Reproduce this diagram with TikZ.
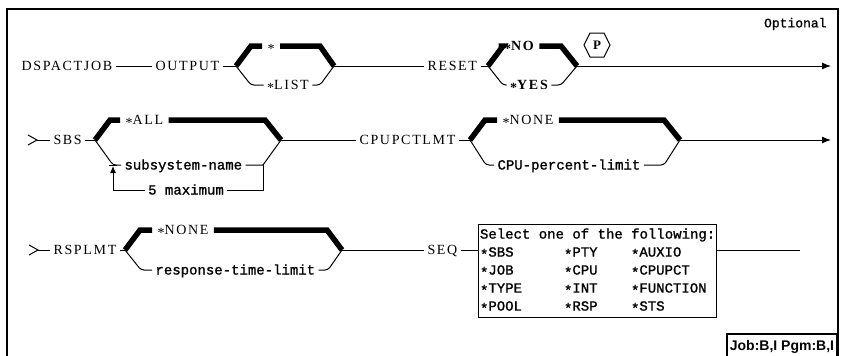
\documentclass[tikz,border=0pt]{standalone}
\usepackage{fontspec}
\setmainfont{Liberation Serif}
\newfontfamily\kwfont[LetterSpace=12]{Liberation Serif}
\newfontfamily\valfont[FakeBold=1.2]{Liberation Mono}
\newfontfamily\tagfont{Liberation Sans}
\usetikzlibrary{math}
\usetikzlibrary{calc}
\usetikzlibrary{arrows.meta}

\newcommand\lowstar{\raisebox{-2.5pt}{*}}

\tikzset{
  kw/.style={font=\kwfont\fontsize{14}{16}\selectfont, inner xsep=3pt, inner ysep=1pt, text height=9pt, text depth=0pt},
  val/.style={font=\valfont\fontsize{14}{16}\selectfont, inner xsep=3pt, inner ysep=1pt, text height=9pt, text depth=0pt},
  boldkw/.style={kw, font=\kwfont\bfseries\fontsize{14}{16}\selectfont},
  heavy/.style={line width=5.5pt},
  lower/.style={rounded corners=3pt},
  endarrow/.style={-{Latex[length=9pt,width=7pt]}},
}

\begin{document}
\begin{tikzpicture}[x=1pt, y=-1pt, line width=1pt]
\tikzmath{
\ra=66; \rb=140; \rc=250;
}
\useasboundingbox (0,0) rectangle (841,356);
\draw[line width=1.8pt] (7,362) -- (7,9) -- (838,9) -- (838,362);
\node[font=\valfont\fontsize{13}{15}\selectfont, anchor=east, inner sep=0pt] (opt) at (827,24) {Optional};

% first line
\node[kw, anchor=west] (cmd) at (18,\ra) {DSPACTJOB};
\node[kw, anchor=west] (output) at (152,\ra) {OUTPUT};
\coordinate (oa) at (236,\ra);
\coordinate (ob) at (334,\ra);
\node[kw, inner xsep=5pt] (outstar) at (271,\ra-20) {\lowstar};
\node[kw] (outlist) at (288,\ra+19) {\lowstar LIST};
\draw (cmd) -- (output);
\draw (output) -- (oa);
\draw[heavy] (oa) -- (251,\ra-20) -- (outstar.west);
\draw[heavy] (outstar.east) -- (320,\ra-20) -- (ob);
\draw[lower] (oa) -- (251,\ra+19) -- (outlist.west);
\draw[lower] (outlist.east) -- (320,\ra+19) -- (ob);

\node[kw, anchor=west] (reset) at (424,\ra) {RESET};
\coordinate (ra) at (488,\ra);
\coordinate (rb) at (577,\ra);
\node[boldkw, inner xsep=5pt] (resno) at (519,\ra-20) {\lowstar NO};
\node[boldkw] (resyes) at (529,\ra+19) {\lowstar YES};
\node[inner sep=0pt, minimum width=25pt, minimum height=23pt,
  font=\bfseries\fontsize{13}{15}\selectfont] (pmark) at (597,\ra-21) {P};
\draw (pmark.west) -- ($(pmark.north west)+(6,0)$) -- ($(pmark.north east)+(-6,0)$) -- (pmark.east)
  -- ($(pmark.south east)+(-6,0)$) -- ($(pmark.south west)+(6,0)$) -- cycle;
\coordinate (e1) at (831,\ra);
\draw (ob) -- (reset);
\draw (reset) -- (ra);
\draw[heavy] (ra) -- (503,\ra-20) -- (resno.west);
\draw[heavy] (resno.east) -- (561,\ra-20) -- (rb);
\draw[lower] (ra) -- (503,\ra+19) -- (resyes.west);
\draw[lower] (resyes.east) -- (561,\ra+19) -- (rb);
\draw[endarrow] (rb) -- (e1);

% second line
\coordinate (s2) at (37,\rb);
\draw (28,\rb-5) -- (s2) -- (28,\rb+5);
\node[kw, anchor=west] (sbs) at (50,\rb) {SBS};
\coordinate (sa) at (95,\rb);
\coordinate (sb) at (281,\rb);
\node[kw, anchor=west, inner xsep=5pt] (sbsall) at (120,\rb-20) {\lowstar ALL};
\node[val, anchor=west] (subname) at (121,\rb+25) {subsystem-name};
\node[val] (maxfive) at (186,\rb+50) {5 maximum};
\coordinate (jr) at (263,\rb+25);
\coordinate (jl) at (113,\rb+25);
\draw (s2) -- (sbs);
\draw (sbs) -- (sa);
\draw[heavy] (sa) -- (110,\rb-20) -- (sbsall.west);
\draw[heavy] (sbsall.east) -- (265,\rb-20) -- (sb);
\draw[lower] (sa) -- (jl) -- (subname.west);
\draw (subname.east) -- (jr) -- (sb);
\draw (jr) -- (263,\rb+50) -- (maxfive.east);
\draw[-{Latex[length=7pt,width=6pt]}] (maxfive.west) -- (113,\rb+50) -- ($(jl)+(0,1)$);
\draw ($(jl)+(-4,0)$) -- ($(jl)+(4,0)$);

\node[kw, anchor=west] (cpu) at (356,\rb) {CPUPCTLMT};
\coordinate (ca) at (470,\rb);
\coordinate (cb) at (680,\rb);
\node[kw, anchor=west, inner xsep=5pt] (cpunone) at (497,\rb-20) {\lowstar NONE};
\node[val, anchor=west] (cpulimit) at (494,\rb+25) {CPU-percent-limit};
\coordinate (e2) at (831,\rb);
\draw (sb) -- (cpu);
\draw (cpu) -- (ca);
\draw[heavy] (ca) -- (485,\rb-20) -- (cpunone.west);
\draw[heavy] (cpunone.east) -- (664,\rb-20) -- (cb);
\draw[lower] (ca) -- (486,\rb+25) -- (cpulimit.west);
\draw[lower] (cpulimit.east) -- (664,\rb+25) -- (cb);
\draw[endarrow] (cb) -- (e2);

% third line
\coordinate (s3) at (38,\rc);
\draw (29,\rc-5) -- (s3) -- (29,\rc+5);
\node[kw, anchor=west] (rsp) at (50,\rc) {RSPLMT};
\coordinate (qa) at (125,\rc);
\coordinate (qb) at (342,\rc);
\node[kw, anchor=west, inner xsep=5pt] (rspnone) at (152,\rc-20) {\lowstar NONE};
\node[val, anchor=west] (rsplimit) at (152,\rc+20) {response-time-limit};
\draw (s3) -- (rsp);
\draw (rsp) -- (qa);
\draw[heavy] (qa) -- (140,\rc-20) -- (rspnone.west);
\draw[heavy] (rspnone.east) -- (327,\rc-20) -- (qb);
\draw[lower] (qa) -- (141,\rc+20) -- (rsplimit.west);
\draw[lower] (rsplimit.east) -- (328,\rc+20) -- (qb);

\node[kw, anchor=west] (seq) at (424,\rc) {SEQ};
\node[draw, anchor=north west, inner sep=1.5pt, font=\valfont\fontsize{14}{18}\selectfont] (seqbox) at (478,224) {%
  \begin{tabular}{@{}p{84pt}@{}p{67pt}@{}l@{}}
  \multicolumn{3}{@{}l@{}}{Select one of the following:}\\
  \lowstar SBS & \lowstar PTY & \lowstar AUXIO\\
  \lowstar JOB & \lowstar CPU & \lowstar CPUPCT\\
  \lowstar TYPE & \lowstar INT & \lowstar FUNCTION\\
  \lowstar POOL & \lowstar RSP & \lowstar STS
  \end{tabular}};
\coordinate (e3) at (800,\rc);
\draw (qb) -- (seq);
\draw (seq.east) -- (seq.east -| seqbox.west);
\draw (seqbox.east |- seq) -- (e3);

\node[draw, line width=1.8pt, anchor=south east, inner xsep=3pt, inner ysep=6pt,
  font=\tagfont\bfseries\fontsize{14}{16}\selectfont] (jobtag) at (838,360) {Job:B,I Pgm:B,I};
\end{tikzpicture}
\end{document}
